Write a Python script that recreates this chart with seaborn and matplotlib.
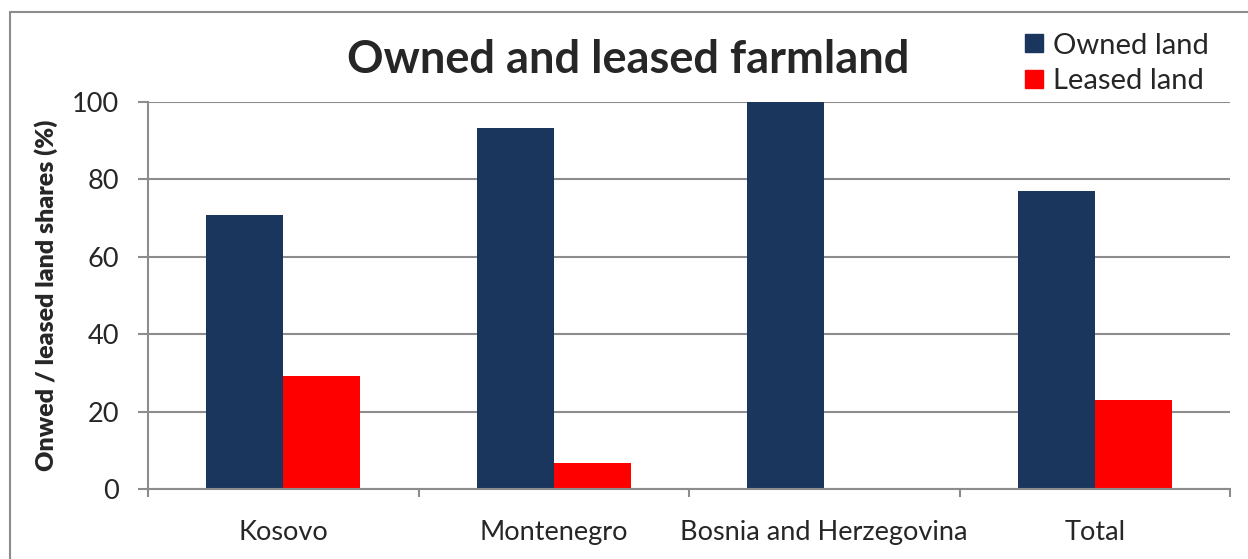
import pandas as pd
import matplotlib
matplotlib.use('Agg')
import matplotlib.pyplot as plt
import seaborn as sns
from matplotlib.lines import Line2D

# chart data
countries = ['Kosovo', 'Montenegro', 'Bosnia and Herzegovina', 'Total']
owned = [70.9, 93.4, 100.0, 77.0]
leased = [29.1, 6.6, 0.0, 23.0]
series_names = ['Owned land', 'Leased land']
colors = ['#1a365d', '#ff0000']

df = pd.DataFrame({
    'Country': countries * 2,
    'Share': owned + leased,
    'Land': [series_names[0]] * len(countries) + [series_names[1]] * len(countries),
})

sns.set_style('white')
plt.rcParams['font.family'] = ['Lato', 'DejaVu Sans']

fig = plt.figure(figsize=(12.48, 5.59), dpi=100)
ax = fig.add_axes([148 / 1248, 1 - 489 / 559, (1230 - 148) / 1248, (489 - 102) / 559])

sns.barplot(data=df, x='Country', y='Share', hue='Land', palette=colors,
            width=0.57, gap=0, saturation=1, linewidth=0, ax=ax, legend=False)

ax.set_ylim(0, 100)
ax.set_xlim(-0.5, 3.5)
ax.set_yticks([0, 20, 40, 60, 80, 100])
ax.yaxis.grid(True, color='#8c8c8c', linewidth=1.5)
ax.set_axisbelow(True)
for side in ['top', 'right']:
    ax.spines[side].set_visible(False)
for side in ['left', 'bottom']:
    ax.spines[side].set_color('#8c8c8c')
    ax.spines[side].set_linewidth(1.5)

ax.tick_params(axis='y', length=7, width=1.5, color='#8c8c8c', pad=14, labelsize=19.5, left=True)
ax.tick_params(axis='x', which='major', length=0, pad=22, labelsize=19.5)
ax.set_xticks([-0.5, 0.5, 1.5, 2.5, 3.5], minor=True)
ax.tick_params(axis='x', which='minor', length=6, width=1.5, color='#8c8c8c', bottom=True)

ax.set_xlabel('')
ax.set_ylabel('Onwed / leased land shares (%)', fontsize=18, fontweight='heavy', labelpad=10)

fig.text(628 / 1248, 1 - 60 / 559, 'Owned and leased farmland', ha='center', va='center',
         fontsize=32.5, fontweight='bold')

handles = [Line2D([], [], marker='s', linestyle='', markersize=13, color=c) for c in colors]
fig.legend(handles, series_names, loc='upper left', bbox_to_anchor=(1012 / 1248, 1 - 21 / 559),
           frameon=False, fontsize=21, handlelength=0.7, handletextpad=0.3,
           labelspacing=0.32, borderaxespad=0)

# outer chart frame (cut off on the right and bottom)
fig.add_artist(Line2D([10 / 1248, 1], [1 - 12 / 559, 1 - 12 / 559], transform=fig.transFigure,
                      color='#8c8c8c', linewidth=1.5))
fig.add_artist(Line2D([10 / 1248, 10 / 1248], [0, 1 - 12 / 559], transform=fig.transFigure,
                      color='#8c8c8c', linewidth=1.5))

fig.savefig('out.png', dpi=100)
